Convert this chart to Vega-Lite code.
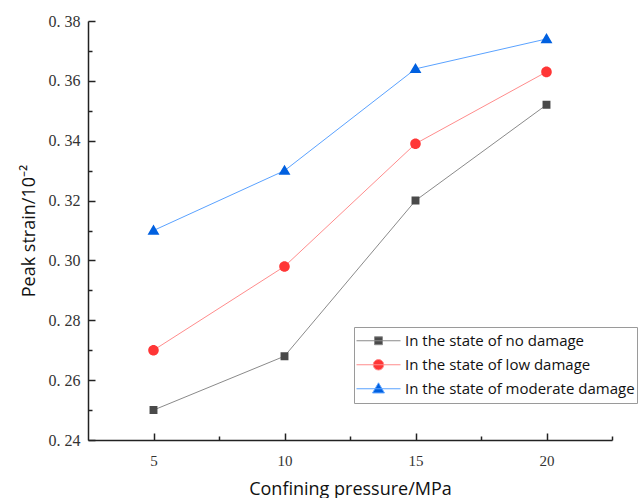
{
  "$schema": "https://vega.github.io/schema/vega-lite/v6.json",
  "width": 524,
  "height": 419,
  "autosize": "none",
  "padding": {"left": 88, "top": 21, "right": 30, "bottom": 58},
  "background": "white",
  "config": {
    "view": {"stroke": null},
    "axis": {
      "grid": false,
      "domainColor": "#222222",
      "domainWidth": 1.5,
      "tickColor": "#222222",
      "tickWidth": 1.5,
      "labelFont": "Liberation Serif",
      "labelFontSize": 16,
      "labelColor": "#333333",
      "titleFont": "Open Sans",
      "titleFontSize": 18,
      "titleFontWeight": "normal",
      "titleColor": "#111111"
    },
    "legend": {
      "orient": "none",
      "legendX": 266,
      "legendY": 306,
      "padding": 2,
      "strokeColor": "#9a9a9a",
      "fillColor": "white",
      "symbolSize": 1936,
      "symbolStrokeWidth": 1,
      "symbolOpacity": 1,
      "clipHeight": 23.5,
      "rowPadding": 0,
      "labelOffset": 4,
      "labelLimit": 0,
      "labelFont": "Open Sans",
      "labelFontSize": 15,
      "labelColor": "#111111"
    }
  },
  "data": {
    "values": [
      {"pressure": 5, "strain": 0.250, "state": "In the state of no damage"},
      {"pressure": 10, "strain": 0.268, "state": "In the state of no damage"},
      {"pressure": 15, "strain": 0.320, "state": "In the state of no damage"},
      {"pressure": 20, "strain": 0.352, "state": "In the state of no damage"},
      {"pressure": 5, "strain": 0.270, "state": "In the state of low damage"},
      {"pressure": 10, "strain": 0.298, "state": "In the state of low damage"},
      {"pressure": 15, "strain": 0.339, "state": "In the state of low damage"},
      {"pressure": 20, "strain": 0.363, "state": "In the state of low damage"},
      {"pressure": 5, "strain": 0.310, "state": "In the state of moderate damage"},
      {"pressure": 10, "strain": 0.330, "state": "In the state of moderate damage"},
      {"pressure": 15, "strain": 0.364, "state": "In the state of moderate damage"},
      {"pressure": 20, "strain": 0.374, "state": "In the state of moderate damage"}
    ]
  },
  "encoding": {
    "x": {
      "field": "pressure",
      "type": "quantitative",
      "scale": {"domain": [2.5, 22.5], "nice": false, "zero": false},
      "axis": {
        "title": "Confining pressure/MPa",
        "values": [5, 7.5, 10, 12.5, 15, 17.5, 20, 22.5],
        "labelExpr": "datum.value % 5 == 0 ? format(datum.value, 'd') : ''",
        "tickSize": {"condition": {"test": "datum.value % 5 == 0", "value": -7}, "value": -4},
        "labelPadding": 20,
        "labelFontSize": 15,
        "titlePadding": 12
      }
    },
    "y": {
      "field": "strain",
      "type": "quantitative",
      "scale": {"domain": [0.24, 0.38], "nice": false, "zero": false},
      "axis": {
        "title": "Peak strain/10⁻²",
        "values": [0.24, 0.25, 0.26, 0.27, 0.28, 0.29, 0.30, 0.31, 0.32, 0.33, 0.34, 0.35, 0.36, 0.37, 0.38],
        "labelExpr": "round(datum.value * 100) % 2 == 0 ? replace(format(datum.value, '.2f'), '.', '. ') : ''",
        "tickSize": {"condition": {"test": "round(datum.value * 100) % 2 == 0", "value": -7}, "value": -4},
        "labelPadding": 15,
        "titlePadding": 10
      }
    }
  },
  "layer": [
    {
      "mark": {"type": "line", "strokeWidth": 1},
      "encoding": {
        "stroke": {
          "field": "state",
          "type": "nominal",
          "scale": {
            "domain": ["In the state of no damage", "In the state of low damage", "In the state of moderate damage"],
            "range": ["#8a8a8a", "#ff8c8c", "#5aa2ff"]
          },
          "legend": {
            "title": null,
            "encode": {"symbols": {"update": {"strokeWidth": {"value": 1}}}}
          }
        }
      }
    },
    {
      "mark": {"type": "point", "filled": true, "size": 1936, "strokeWidth": 0, "opacity": 1},
      "encoding": {
        "fill": {
          "field": "state",
          "type": "nominal",
          "scale": {
            "domain": ["In the state of no damage", "In the state of low damage", "In the state of moderate damage"],
            "range": ["#4a4a4a", "#ff3636", "#0060e0"]
          },
          "legend": {
            "title": null,
            "encode": {"symbols": {"update": {"strokeWidth": {"value": 1}}}}
          }
        },
        "stroke": {
          "field": "state",
          "type": "nominal",
          "legend": {
            "title": null,
            "encode": {"symbols": {"update": {"strokeWidth": {"value": 1}}}}
          }
        },
        "shape": {
          "field": "state",
          "type": "nominal",
          "scale": {
            "domain": ["In the state of no damage", "In the state of low damage", "In the state of moderate damage"],
            "range": [
              "M-1,0H1M-0.18,-0.18H0.18V0.18H-0.18Z",
              "M-1,0H1M-0.24,0A0.24,0.24,0,1,0,0.24,0A0.24,0.24,0,1,0,-0.24,0Z",
              "M-1,0H1M0,-0.27L0.27,0.19H-0.27Z"
            ]
          },
          "legend": {
            "title": null,
            "encode": {"symbols": {"update": {"strokeWidth": {"value": 1}}}}
          }
        }
      }
    }
  ]
}
